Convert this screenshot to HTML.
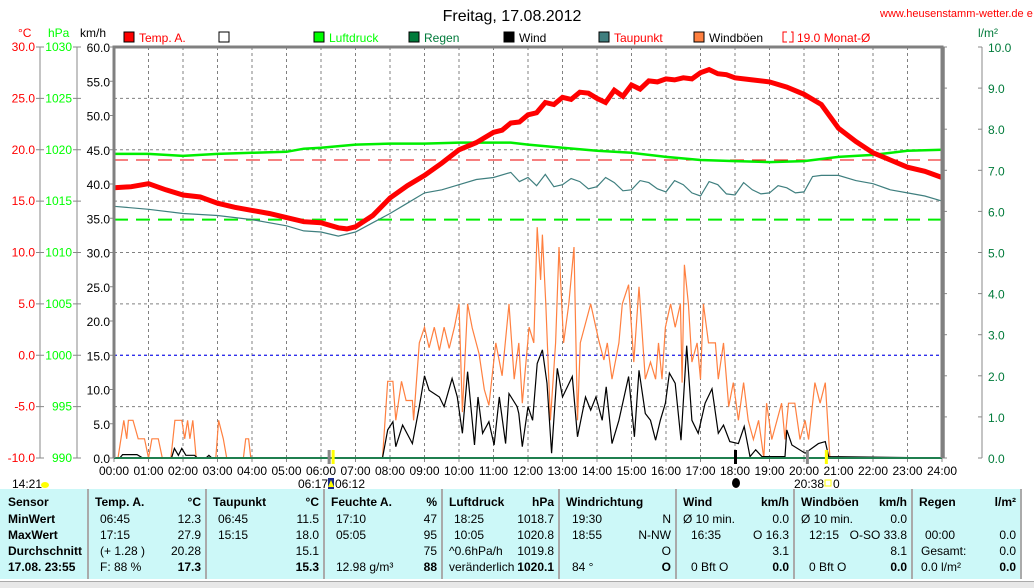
<!DOCTYPE html>
<html><head><meta charset="utf-8">
<style>
body{margin:0;background:#fff;width:1034px;height:587px;overflow:hidden;font-family:"Liberation Sans",sans-serif}
svg{position:absolute;left:0;top:0}
#tbl{position:absolute;left:0;top:489px;width:1022px;height:90px;background:#ccf8f8;font-size:12px;}
.col{position:absolute;top:0;height:90px;border-right:2px solid #aaa;}
.r{position:absolute;left:6px;right:4px;height:16px;white-space:nowrap}
.r span{position:absolute}
.b{font-weight:bold}
#status{position:absolute;left:0;top:581px;width:1034px;height:6px;background:#e8e8e8;border-top:1px solid #aaa}
</style></head><body>
<svg id="chart" width="1034" height="587" font-family="Liberation Sans, sans-serif"></svg>
<div id="tbl">
 <div class="col" style="left:0;width:87px">
  <div class="r b" style="top:6px"><span style="left:2px">Sensor</span></div>
  <div class="r b" style="top:23px"><span style="left:2px">MinWert</span></div>
  <div class="r b" style="top:39px"><span style="left:2px">MaxWert</span></div>
  <div class="r b" style="top:55px"><span style="left:2px">Durchschnitt</span></div>
  <div class="r b" style="top:71px"><span style="left:2px">17.08. 23:55</span></div>
 </div>
 <div class="col" style="left:89px;width:116px">
  <div class="r b" style="top:6px"><span style="left:0">Temp. A.</span><span style="right:0">°C</span></div>
  <div class="r" style="top:23px"><span style="left:5px">06:45</span><span style="right:0">12.3</span></div>
  <div class="r" style="top:39px"><span style="left:5px">17:15</span><span style="right:0">27.9</span></div>
  <div class="r" style="top:55px"><span style="left:5px">(+ 1.28 )</span><span style="right:0">20.28</span></div>
  <div class="r" style="top:71px"><span style="left:5px">F: 88 %</span><span class="b" style="right:0">17.3</span></div>
 </div>
 <div class="col" style="left:207px;width:116px">
  <div class="r b" style="top:6px"><span style="left:0">Taupunkt</span><span style="right:0">°C</span></div>
  <div class="r" style="top:23px"><span style="left:5px">06:45</span><span style="right:0">11.5</span></div>
  <div class="r" style="top:39px"><span style="left:5px">15:15</span><span style="right:0">18.0</span></div>
  <div class="r" style="top:55px"><span style="right:0">15.1</span></div>
  <div class="r" style="top:71px"><span class="b" style="right:0">15.3</span></div>
 </div>
 <div class="col" style="left:325px;width:116px">
  <div class="r b" style="top:6px"><span style="left:0">Feuchte A.</span><span style="right:0">%</span></div>
  <div class="r" style="top:23px"><span style="left:5px">17:10</span><span style="right:0">47</span></div>
  <div class="r" style="top:39px"><span style="left:5px">05:05</span><span style="right:0">95</span></div>
  <div class="r" style="top:55px"><span style="right:0">75</span></div>
  <div class="r" style="top:71px"><span style="left:5px">12.98 g/m³</span><span class="b" style="right:0">88</span></div>
 </div>
 <div class="col" style="left:443px;width:115px">
  <div class="r b" style="top:6px"><span style="left:0">Luftdruck</span><span style="right:0">hPa</span></div>
  <div class="r" style="top:23px"><span style="left:5px">18:25</span><span style="right:0">1018.7</span></div>
  <div class="r" style="top:39px"><span style="left:5px">10:05</span><span style="right:0">1020.8</span></div>
  <div class="r" style="top:55px"><span style="left:0">^0.6hPa/h</span><span style="right:0">1019.8</span></div>
  <div class="r" style="top:71px"><span style="left:0">veränderlich</span><span class="b" style="right:0">1020.1</span></div>
 </div>
 <div class="col" style="left:560px;width:115px">
  <div class="r b" style="top:6px"><span style="left:0">Windrichtung</span></div>
  <div class="r" style="top:23px"><span style="left:6px">19:30</span><span style="right:0">N</span></div>
  <div class="r" style="top:39px"><span style="left:6px">18:55</span><span style="right:0">N-NW</span></div>
  <div class="r" style="top:55px"><span style="right:0">O</span></div>
  <div class="r" style="top:71px"><span style="left:6px">84 °</span><span class="b" style="right:0">O</span></div>
 </div>
 <div class="col" style="left:677px;width:116px">
  <div class="r b" style="top:6px"><span style="left:0">Wind</span><span style="right:0">km/h</span></div>
  <div class="r" style="top:23px"><span style="left:0">Ø 10 min.</span><span style="right:0">0.0</span></div>
  <div class="r" style="top:39px"><span style="left:8px">16:35</span><span style="right:0">O 16.3</span></div>
  <div class="r" style="top:55px"><span style="right:0">3.1</span></div>
  <div class="r" style="top:71px"><span style="left:8px">0 Bft O</span><span class="b" style="right:0">0.0</span></div>
 </div>
 <div class="col" style="left:795px;width:116px">
  <div class="r b" style="top:6px"><span style="left:0">Windböen</span><span style="right:0">km/h</span></div>
  <div class="r" style="top:23px"><span style="left:0">Ø 10 min.</span><span style="right:0">0.0</span></div>
  <div class="r" style="top:39px"><span style="left:8px">12:15</span><span style="right:0">O-SO 33.8</span></div>
  <div class="r" style="top:55px"><span style="right:0">8.1</span></div>
  <div class="r" style="top:71px"><span style="left:8px">0 Bft O</span><span class="b" style="right:0">0.0</span></div>
 </div>
 <div class="col" style="left:913px;width:107px">
  <div class="r b" style="top:6px"><span style="left:0">Regen</span><span style="right:0">l/m²</span></div>
  <div class="r" style="top:39px"><span style="left:6px">00:00</span><span style="right:0">0.0</span></div>
  <div class="r" style="top:55px"><span style="left:2px">Gesamt:</span><span style="right:0">0.0</span></div>
  <div class="r" style="top:71px"><span style="left:2px">0.0 l/m²</span><span class="b" style="right:0">0.0</span></div>
 </div>
</div>
<div id="status"></div>
<script>
// ---- data ----
const tempTimes=[0,30,60,90,120,150,180,210,240,270,300,330,360,390,405,420,450,480,510,540,570,600,630,660,675,690,705,720,735,750,765,780,795,810,825,840,855,870,885,900,915,930,945,960,975,990,1005,1020,1035,1050,1065,1080,1110,1140,1170,1200,1230,1260,1290,1320,1350,1380,1410,1440];
const tempVals=[16.3,16.4,16.7,16.1,15.6,15.4,14.8,14.4,14.1,13.8,13.4,13.0,12.9,12.4,12.3,12.5,13.6,15.3,16.5,17.5,18.7,20.0,20.7,21.7,21.9,22.6,22.7,23.4,23.6,24.6,24.4,25.1,24.9,25.6,25.5,25.0,24.6,25.8,25.2,26.3,25.9,26.7,26.6,26.9,26.8,27.0,26.9,27.5,27.8,27.4,27.3,27.0,26.8,26.6,26.1,25.4,24.4,22.1,20.8,19.7,19.0,18.3,17.9,17.3];
const pressTimes=[0,60,120,180,240,300,330,360,420,480,540,600,660,690,720,780,840,900,960,1020,1080,1140,1200,1260,1320,1380,1440];
const pressVals=[1019.6,1019.6,1019.4,1019.6,1019.7,1019.8,1020.1,1020.2,1020.5,1020.6,1020.6,1020.7,1020.7,1020.7,1020.5,1020.2,1019.9,1019.7,1019.3,1019.0,1018.9,1018.8,1018.9,1019.3,1019.5,1019.9,1020.0];
const dewTimes=[0,60,120,180,240,300,330,360,390,420,450,480,510,540,570,600,630,660,690,705,720,735,750,765,780,795,810,825,840,855,870,885,900,915,930,945,960,975,990,1005,1020,1035,1050,1065,1080,1095,1110,1125,1140,1155,1170,1185,1200,1215,1230,1260,1290,1320,1350,1380,1410,1440];
const dewVals=[14.5,14.2,13.8,13.6,13.2,12.6,12.1,12.0,11.6,12.0,12.9,13.8,14.8,15.8,16.1,16.6,17.1,17.3,17.8,16.9,17.3,16.5,17.6,16.4,16.6,17.2,16.9,16.2,16.4,17.3,16.8,16.0,16.1,17.0,16.8,16.2,15.9,17.0,16.6,15.8,15.5,16.9,16.6,15.7,15.6,16.8,16.1,15.7,15.8,16.5,16.3,15.8,15.9,17.4,17.5,17.5,17.0,16.7,16.1,15.8,15.5,15.0];
const gustTimes=[0,7,17,22,25,33,42,53,60,66,77,84,99,106,118,123,128,132,137,143,177,182,190,196,225,229,234,238,467,476,485,490,500,508,519,521,531,540,548,557,566,574,583,592,600,606,615,623,635,644,652,664,675,687,696,704,710,722,730,736,742,745,751,759,768,774,782,791,800,806,811,829,843,852,858,866,878,884,895,904,913,924,933,942,947,953,959,968,976,985,988,992,999,1005,1014,1020,1025,1034,1046,1051,1060,1069,1077,1086,1095,1103,1112,1121,1130,1135,1144,1153,1161,1167,1173,1184,1193,1202,1208,1219,1228,1237,1245,1440];
const gustVals=[0,0,5.5,2.8,5.5,5.5,2.8,2.8,0,2.8,2.8,0,0,5.5,5.5,2.8,5.5,2.8,5.5,0,0,5.5,2.8,0,0,2.8,2.8,0,0,11.2,11.2,5.5,11.2,8.4,8.4,5.5,16.8,19.1,16.1,19.1,15.7,19.1,16,19.1,22.5,6.7,22.5,19,15.2,10,7.7,16.8,12,22.5,11.5,16.8,8,19.1,16.8,33.7,26,32.6,22.5,5.5,16.8,30.8,16.8,22.5,30.8,5.5,16.8,22.5,17.2,14.3,16.8,11.5,16.8,22.5,25.3,14,25,11.5,14,11.5,16.8,11.5,19.1,22.5,19.1,22.5,11,28.2,22.5,14,16.8,11.5,22.5,16.8,16.8,11.5,16.8,7.5,11,5.5,11,5.5,2.7,5.5,0,8,2.7,5.5,8,2.7,8,8,2.7,5.5,2.7,11,8,11,0,0];
const windTimes=[0,10,15,40,50,100,105,112,118,125,140,145,160,165,170,467,476,485,490,502,519,531,540,548,566,574,588,597,606,615,627,633,641,652,661,670,681,687,701,704,710,720,728,736,745,753,761,771,780,797,806,820,829,838,849,856,866,878,895,905,913,924,933,942,950,959,966,976,986,996,1005,1016,1028,1040,1051,1060,1071,1086,1096,1106,1116,1127,1167,1170,1179,1202,1225,1237,1243,1440];
const windVals=[0,0,0.5,0.5,0,0,1.4,0.4,1.4,0.4,0.4,0,0,0.4,0,0,4.1,5.3,1.65,4.8,2.1,7.5,12,9.9,8.9,7.5,11.6,8.9,3.6,12.6,1.9,8.9,3.6,5.3,1.9,8.9,2.1,9.4,7.5,6.5,1.65,7.5,5.5,13.8,15.8,10.9,0.7,13.1,8.9,11.9,3.1,8.9,7,8.9,5.5,10.4,2.1,5.5,11.9,3.1,12.8,6.5,5.5,2.6,5.5,8,12.4,10.9,2.6,16.4,5.5,3.6,8,10.1,3.6,4.8,2.4,2.1,4.6,0.2,1.2,0.2,0.2,4.1,1.9,0.7,2.1,2.4,0.2,0];
const tempTicks=["30.0","25.0","20.0","15.0","10.0","5.0","0.0","-5.0","-10.0"];
const pressTicks=["1030","1025","1020","1015","1010","1005","1000","995","990"];
const kmhTicks=["60.0","55.0","50.0","45.0","40.0","35.0","30.0","25.0","20.0","15.0","10.0","5.0","0.0"];
const rainTicks=["10.0","9.0","8.0","7.0","6.0","5.0","4.0","3.0","2.0","1.0","0.0"];
const hourLabels=["00:00","01:00","02:00","03:00","04:00","05:00","06:00","07:00","08:00","09:00","10:00","11:00","12:00","13:00","14:00","15:00","16:00","17:00","18:00","19:00","20:00","21:00","22:00","23:00","24:00"];
const monthAvgTemp=19.0, monthAvgPress=1013.2;

// ---- axes ----
const L=114,R=942,T=47,B=458;
const X=m=>L+m/1440*(R-L);
const yT=t=>T+(30-t)/40*(B-T);
const yP=p=>T+(1030-p)/40*(B-T);
const yK=k=>B-k/60*(B-T);
const svg=document.getElementById('chart');
const NS='http://www.w3.org/2000/svg';
function mk(tag,attrs,name,parent){const e=document.createElementNS(NS,tag);for(const k in attrs)e.setAttribute(k,attrs[k]);


(parent||svg).appendChild(e);return e;}
function txt(x,y,s,name,opt){const e=mk('text',Object.assign({x:x,y:y,'font-size':12},opt||{}),name);e.textContent=s;return e;}

txt(512,21,"Freitag, 17.08.2012","chart-title",{'text-anchor':'middle','font-size':16,fill:'#000'});
txt(880,17,"www.heusenstamm-wetter.de e","site-url",{'font-size':11,fill:'#f00'});
txt(18,37,"°C","temp-axis-unit",{fill:'#f00'});
txt(48,37,"hPa","pressure-axis-unit",{fill:'#0f0'});
txt(80,37,"km/h","kmh-axis-unit",{fill:'#000'});
txt(978,37,"l/m²","rain-axis-unit",{fill:'#007a3a'});
const leg=[[124,'#f00','#f00','Temp. A.','#f00'],[219,'#fff','#fff','','#000'],[314,'#0f0','#0f0','Luftdruck','#0f0'],[409,'#007a3a','#007a3a','Regen','#007a3a'],[504,'#000','#000','Wind','#000'],[599,'#3f7f7f','#3f7f7f','Taupunkt','#f00'],[694,'#ff8040','#ff8040','Windböen','#000']];
leg.forEach((l,i)=>{const g=mk('g',{},'legend-entry');
 const r=document.createElementNS(NS,'rect');r.setAttribute('x',l[0]);r.setAttribute('y',32);r.setAttribute('width',10);r.setAttribute('height',10);r.setAttribute('fill',l[1]);r.setAttribute('stroke','#000');
 
 
 g.appendChild(r);
 if(l[3]){const t=document.createElementNS(NS,'text');t.setAttribute('x',l[0]+15);t.setAttribute('y',42);t.setAttribute('font-size',12);t.setAttribute('fill',l[4]);t.textContent=l[3];
 
 
 g.appendChild(t);}});
mk('path',{d:'M787 32 H783 V42 H787 M791 32 H793 V42 H789',stroke:'#f00',fill:'none'},'legend-month-swatch');
txt(797,42,"19.0 Monat-Ø","legend-month-avg",{fill:'#f00'});

mk('line',{x1:40,y1:T,x2:40,y2:B,stroke:'#888'},'temp-axis-line');
mk('line',{x1:77,y1:T,x2:77,y2:B,stroke:'#888'},'pressure-axis-line');
mk('line',{x1:982,y1:T,x2:982,y2:B,stroke:'#888'},'rain-axis-line');
tempTicks.forEach((s,i)=>{const y=T+i*(B-T)/8;
 mk('line',{x1:36,y1:y,x2:44,y2:y,stroke:'#888'},'temp-tick');
 txt(35,y+4,s,'temp-tick-label',{'text-anchor':'end',fill:'#f00'});
 mk('line',{x1:73,y1:y,x2:81,y2:y,stroke:'#888'},'pressure-tick');
 txt(72,y+4,pressTicks[i],'pressure-tick-label',{'text-anchor':'end',fill:'#0f0'});
 if(i>0&&i<8)mk('line',{x1:L,y1:y,x2:R,y2:y,stroke:'#808080','stroke-dasharray':'3,3'},'h-gridline');});
kmhTicks.forEach((s,i)=>{const y=T+i*(B-T)/12;
 mk('line',{x1:L-4,y1:y,x2:L,y2:y,stroke:'#888'},'kmh-tick');
 txt(110,y+5,s,'kmh-tick-label',{'text-anchor':'end',fill:'#000'});});
rainTicks.forEach((s,i)=>{const y=T+i*(B-T)/10;
 mk('line',{x1:R,y1:y,x2:R+5,y2:y,stroke:'#888'},'rain-tick-inner');
 mk('line',{x1:978,y1:y,x2:982,y2:y,stroke:'#888'},'rain-tick');
 txt(988,y+5,s,'rain-tick-label',{fill:'#007a3a'});});
hourLabels.forEach((s,i)=>{const x=X(i*60);
 if(i>0&&i<24)mk('line',{x1:x,y1:T,x2:x,y2:B,stroke:'#808080','stroke-dasharray':'3,3'},'v-gridline');
 mk('line',{x1:x,y1:B,x2:x,y2:B+4,stroke:'#888'},'x-tick');
 txt(x,475,s,'x-tick-label',{'text-anchor':'middle',fill:'#000'});});
mk('line',{x1:L,y1:yT(0),x2:R,y2:yT(0),stroke:'#00f','stroke-dasharray':'3,3'},'zero-celsius-line');
mk('line',{x1:L,y1:yT(monthAvgTemp),x2:R,y2:yT(monthAvgTemp),stroke:'#e00','stroke-dasharray':'14,8'},'month-avg-temp-line');
mk('line',{x1:L,y1:yP(monthAvgPress),x2:R,y2:yP(monthAvgPress),stroke:'#0e0','stroke-width':2,'stroke-dasharray':'14,8'},'month-avg-pressure-line');

function pl(ts,vs,f,col,w,name){mk('polyline',{points:ts.map((t,i)=>X(t).toFixed(1)+','+f(vs[i]).toFixed(1)).join(' '),fill:'none',stroke:col,'stroke-width':w,'stroke-linejoin':'miter'},name);}
pl(gustTimes,gustVals,yK,'#ff8040',1.2,'gust-series');
pl(windTimes,windVals,yK,'#000',1.2,'wind-series');
pl(dewTimes,dewVals,yT,'#3f7f7f',1.2,'dewpoint-series');
pl(pressTimes,pressVals,yP,'#0e0',2.5,'pressure-series');
pl(tempTimes,tempVals,yT,'#f00',5,'temperature-series');
mk('line',{x1:L,y1:B,x2:R,y2:B,stroke:'#1f7f4f','stroke-width':2},'rain-baseline');
mk('path',{d:`M${L} ${B} V${T} H${R} V${B}`,fill:'none',stroke:'#808080','stroke-width':3},'plot-frame');
mk('line',{x1:R+2,y1:T,x2:R+2,y2:B,stroke:'#808080','stroke-width':1.5},'plot-frame-right');
mk('rect',{x:X(375)-2,y:B-8,width:3,height:14,fill:'#888'},'sunrise-marker');
mk('rect',{x:X(375)+2,y:B-8,width:3,height:14,fill:'#ff0'},'sunrise-marker-2');
mk('rect',{x:X(1080)-1,y:B-8,width:3,height:14,fill:'#000'},'moon-marker');
mk('rect',{x:X(1205)-1,y:B-8,width:3,height:14,fill:'#888'},'gray-marker');
mk('rect',{x:X(1238)-1,y:B-8,width:3,height:14,fill:'#ff0'},'sunset-marker');
txt(12,488,"14:21","daylight-label",{'font-size':12});
mk('ellipse',{cx:45,cy:485,rx:4,ry:3,fill:'#ff0'},'sun-icon');
txt(298,488,"06:17","sunrise-label",{'font-size':12});
mk('rect',{x:328,y:478,width:6,height:11,fill:'#1a2a8a'},'sunrise-icon');
mk('path',{d:'M331 480 L334 487 H328 Z',fill:'#ff0'},'sunrise-arrow');
txt(335,488,"06:12","moonrise-label",{'font-size':12});
mk('ellipse',{cx:736,cy:483,rx:4,ry:5,fill:'#000'},'moon-icon');
txt(794,488,"20:38","sunset-label",{'font-size':12});
mk('rect',{x:825,y:480,width:6,height:6,fill:'none',stroke:'#ff0'},'sunset-icon');
txt(833,488,"0","moon-value",{'font-size':12});
</script>
</body></html>
